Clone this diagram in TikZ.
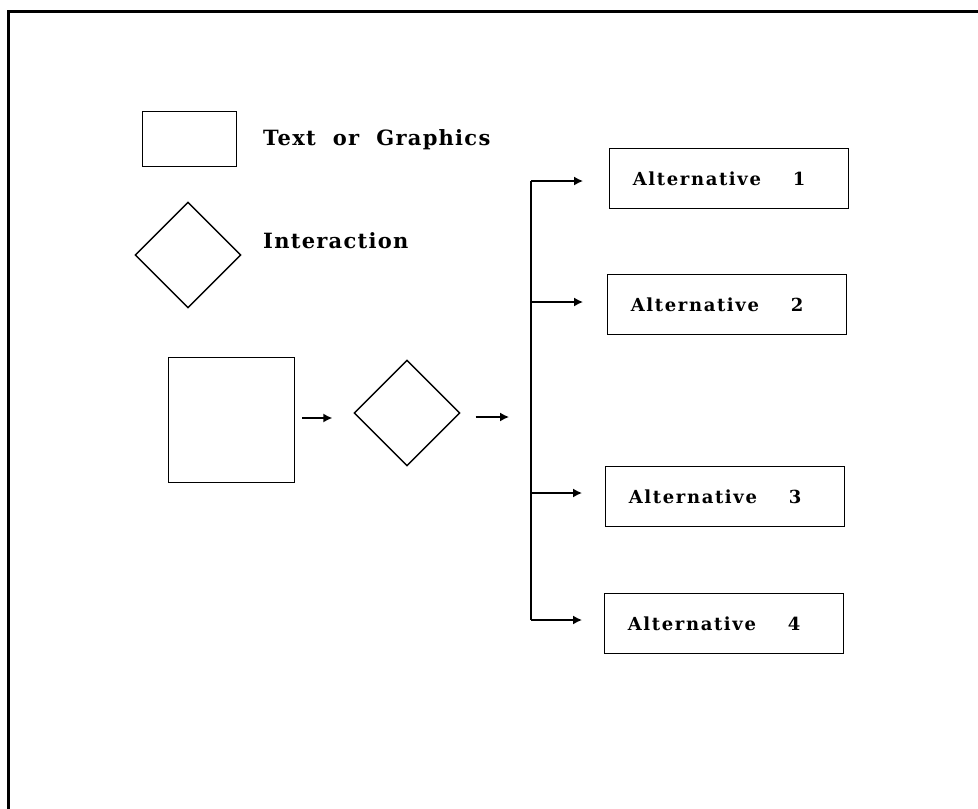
\documentclass[tikz,border=0pt]{standalone}
\usepackage{fontspec}
\usetikzlibrary{shapes.geometric,arrows.meta}
\newfontfamily\legendfont{DejaVu Serif}[BoldFont=* Bold, LetterSpace=6, WordSpace=2.0]
\newfontfamily\altfont{DejaVu Serif}[BoldFont=* Bold, LetterSpace=9]
\newcommand{\numgap}{\hspace{32pt}}
\newcommand{\padright}{\kern20pt}
\tikzset{
  x=1pt, y=-1pt,
  outline/.style={draw, line width=1.4pt, inner sep=0pt},
  boxshape/.style={outline, rectangle, anchor=north west},
  diam/.style={outline, diamond, aspect=1, minimum width=106pt, minimum height=106pt},
  altbox/.style={boxshape, minimum width=239pt, minimum height=60pt,
                 font=\altfont\bfseries\fontsize{18}{20}\selectfont},
  legendtext/.style={anchor=base west, inner sep=0pt,
                     font=\legendfont\bfseries\fontsize{21}{24}\selectfont},
  arr/.style={line width=1.4pt, -{Latex[length=9pt,width=9pt]}},
  wire/.style={line width=1.4pt}
}
\begin{document}
\begin{tikzpicture}
  \useasboundingbox (0,0) rectangle (978,809);
  % frame: only the top and left edges
  \draw[line width=3pt] (8,809) -- (8,11) -- (978,11);

  % legend
  \node[boxshape, minimum width=94pt, minimum height=55pt] (legbox) at (142,111) {};
  \node[legendtext] (legboxtxt) at (263,145) {Text or Graphics};
  \node[diam] (legdia) at (188,255) {};
  \node[legendtext] (legdiatxt) at (263,248) {Interaction};

  % flow
  \node[boxshape, minimum width=126pt, minimum height=125pt] (sq) at (168,357) {};
  \node[diam] (dm) at (407,413) {};

  % alternatives (label set a little left of the box centre)
  \node[altbox] (a1) at (609,148) {Alternative\numgap 1\padright};
  \node[altbox] (a2) at (607,274) {Alternative\numgap 2\padright};
  \node[altbox] (a3) at (605,466) {Alternative\numgap 3\padright};
  \node[altbox] (a4) at (604,593) {Alternative\numgap 4\padright};

  % branch points on the vertical bus
  \coordinate (b1) at (531,181);
  \coordinate (b2) at (531,302);
  \coordinate (b3) at (531,493);
  \coordinate (b4) at (531,620);

  \draw[arr, shorten <=7pt, shorten >=21pt] (sq.east |- 0,418) -- (dm.west |- 0,418);
  \draw[arr, shorten <=15pt, shorten >=22pt] (dm.east |- 0,417) -- (b1 |- 0,417);

  \draw[wire] (b1) -- (b4);
  \draw[arr, shorten >=26pt] (b1) -- (b1 -| a1.west);
  \draw[arr, shorten >=24pt] (b2) -- (b2 -| a2.west);
  \draw[arr, shorten >=23pt] (b3) -- (b3 -| a3.west);
  \draw[arr, shorten >=22pt] (b4) -- (b4 -| a4.west);
\end{tikzpicture}
\end{document}
